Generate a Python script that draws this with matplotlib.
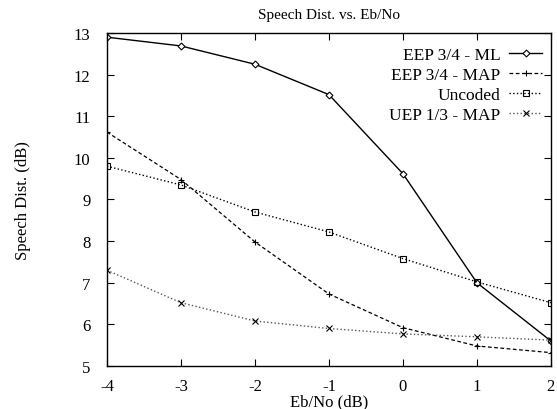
import matplotlib
matplotlib.use("Agg")
import matplotlib.pyplot as plt

plt.rcParams['font.family'] = ['Liberation Serif', 'DejaVu Serif']
plt.rcParams['axes.unicode_minus'] = False

ebno = [-4, -3, -2, -1, 0, 1, 2]
eep_ml = [12.9, 12.69, 12.25, 11.52, 9.62, 7.0, 5.6]
eep_map = [10.62, 9.48, 7.98, 6.73, 5.92, 5.48, 5.32]
uncoded = [9.8, 9.35, 8.7, 8.22, 7.58, 7.02, 6.52]
uep_map = [7.3, 6.52, 6.08, 5.9, 5.77, 5.7, 5.62]

fig = plt.figure(figsize=(5.57, 4.10), dpi=100)
ax = fig.add_axes([0.192, 0.105, 0.797, 0.812])

ax.plot(ebno, eep_ml, '-', color='black', lw=1.0, marker='D', ms=3.5,
        mfc='white', mec='black', mew=0.8, label='EEP 3/4 - ML')
ax.plot(ebno, eep_map, '--', color='black', lw=0.9, dashes=(3, 2), marker='+', ms=5,
        mew=0.8, label='EEP 3/4 - MAP')
ax.plot(ebno, uncoded, ':', color='black', lw=1.0, marker='s', ms=5,
        mfc='none', mec='black', mew=0.8, label='Uncoded')
ax.plot(ebno, uep_map, ':', color='#555555', lw=1.0, marker='x', ms=4.5,
        mec='black', mew=0.8, label='UEP 1/3 - MAP')

ax.set_xlim(-4, 2)
ax.set_ylim(5, 13)
ax.set_xticks(ebno)
ax.set_yticks(range(5, 14))
ax.tick_params(direction='in', top=True, right=True, labelsize=12, length=5)
ax.tick_params(axis='x', pad=9)
ax.tick_params(axis='y', pad=12)
for s in ax.spines.values():
    s.set_linewidth(1.0)

ax.set_title('Speech Dist. vs. Eb/No', fontsize=11, pad=11)
ax.set_xlabel('Eb/No (dB)', fontsize=12, labelpad=-1)
ax.set_ylabel('Speech Dist. (dB)', fontsize=12, labelpad=31)

ax.legend(loc='upper right', bbox_to_anchor=(1.0, 0.985), frameon=False,
          markerfirst=False, fontsize=12.5, handlelength=1.9, labelspacing=0.22,
          borderaxespad=0.0, borderpad=0.5, handletextpad=0.5)

fig.savefig('out.png', dpi=100)
